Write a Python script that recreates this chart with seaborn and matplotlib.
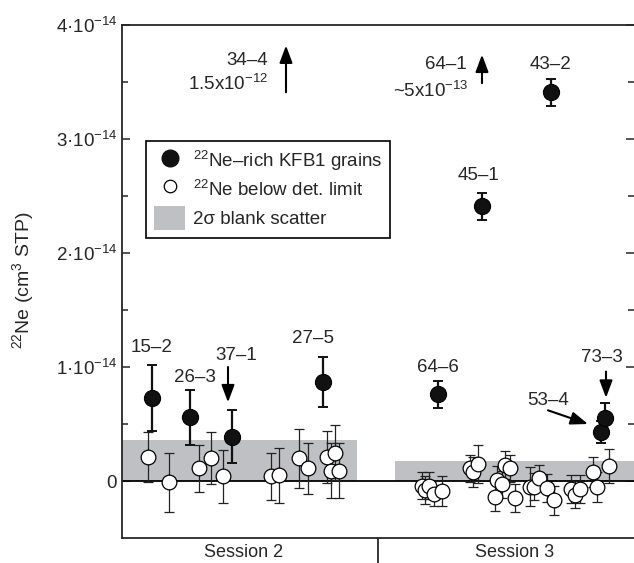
import matplotlib
matplotlib.use("Agg")
import matplotlib.pyplot as plt
import seaborn as sns
import pandas as pd
import numpy as np
from matplotlib.lines import Line2D
from matplotlib.patches import Patch

# positions along the x axis (arbitrary run order), Ne values in units of 1e-14 cm3 STP
rich_names = ['15–2', '26–3', '37–1', '27–5', '64–6', '45–1', '43–2', '53–4', '73–3']
rich_pos = [30, 68, 110, 201, 316, 360, 429, 479, 483]
rich_ne = [0.73, 0.56, 0.39, 0.87, 0.76, 2.41, 3.41, 0.43, 0.55]
rich_err = [0.29, 0.24, 0.23, 0.22, 0.12, 0.12, 0.12, 0.10, 0.13]

below_pos = [26, 47, 77, 89, 101, 149, 157, 177, 186, 205, 209, 213, 217,
             300, 303, 307, 312, 320, 348, 351, 356, 373, 375, 380, 383, 388,
             393, 408, 412, 417, 425, 432, 449, 453, 458, 471, 475, 487]
below_ne = [0.21, -0.01, 0.11, 0.20, 0.04, 0.04, 0.05, 0.20, 0.11, 0.21, 0.09, 0.25, 0.09,
            -0.04, -0.08, -0.04, -0.11, -0.09, 0.11, 0.08, 0.15, -0.14, 0.01, -0.03, 0.14, 0.11,
            -0.15, -0.05, -0.05, 0.03, -0.06, -0.17, -0.07, -0.12, -0.07, 0.08, -0.05, 0.13]
below_err = [0.22, 0.26, 0.21, 0.23, 0.23, 0.21, 0.24, 0.26, 0.22, 0.23, 0.24, 0.24, 0.24,
             0.12, 0.12, 0.12, 0.11, 0.13, 0.12, 0.13, 0.17, 0.12, 0.12, 0.12, 0.12, 0.12,
             0.12, 0.17, 0.12, 0.11, 0.12, 0.13, 0.12, 0.12, 0.12, 0.13, 0.13, 0.15]

# 2 sigma blank scatter per session: (x start, x end, height)
blank_s2 = (0, 235, 0.36)
blank_s3 = (273, 512, 0.175)

sessions = ['Session 2', 'Session 3']
session_centers = [122, 393]
session_split = 256

ytick_vals = [0, 1, 2, 3, 4]
ytick_labels = ['0', '1·10$^{-14}$', '2·10$^{-14}$', '3·10$^{-14}$', '4·10$^{-14}$']

sns.set_style("ticks")
plt.rcParams['font.family'] = ['Liberation Sans', 'DejaVu Sans']
plt.rcParams['mathtext.fontset'] = 'custom'
plt.rcParams['mathtext.rm'] = 'Liberation Sans'
plt.rcParams['mathtext.it'] = 'Liberation Sans:italic'
plt.rcParams['mathtext.bf'] = 'Liberation Sans:bold'

fig = plt.figure(figsize=(6.34, 5.63), dpi=100)
ax = fig.add_axes([122 / 634, 25 / 563, 512 / 634, 513 / 563])

gray = '#bfc0c4'
for x0, x1, h in (blank_s2, blank_s3):
    ax.fill_between([x0, x1], 0, h, color=gray, lw=0, zorder=1)
ax.axhline(0, color='black', lw=1.3, zorder=2)

# error bars
ax.errorbar(below_pos, below_ne, yerr=below_err, fmt='none', ecolor='#222222',
            elinewidth=0.9, capsize=3.5, capthick=0.9, zorder=3)
ax.errorbar(rich_pos, rich_ne, yerr=rich_err, fmt='none', ecolor='#111111',
            elinewidth=1.6, capsize=3.5, capthick=1.4, zorder=3)

df_below = pd.DataFrame({'pos': below_pos, 'ne': below_ne})
df_rich = pd.DataFrame({'pos': rich_pos, 'ne': rich_ne})
sns.scatterplot(data=df_below, x='pos', y='ne', ax=ax, s=112, color='white',
                edgecolor='black', linewidth=0.9, zorder=4, legend=False)
sns.scatterplot(data=df_rich, x='pos', y='ne', ax=ax, s=135, color='#111111',
                edgecolor='black', linewidth=0.8, zorder=5, legend=False)

# grain labels
label_xy = {
    '15–2': (30, 1.17), '26–3': (73, 0.91), '37–1': (114, 1.10), '27–5': (191, 1.25),
    '64–6': (316, 1.0), '45–1': (357, 2.68), '43–2': (429, 3.65), '53–4': (426, 0.71),
    '73–3': (480, 1.08),
}
for name, (lx, ly) in label_xy.items():
    ax.text(lx, ly, name, fontsize=13.5, ha='center', va='center', zorder=6)

arrow = dict(arrowstyle='-|>,head_length=0.8,head_width=0.3', color='black', lw=1.5,
             mutation_scale=13, shrinkA=0, shrinkB=0)
ax.annotate('', xy=(106, 0.69), xytext=(106, 1.0), arrowprops=arrow)
ax.annotate('', xy=(484, 0.73), xytext=(484, 0.96), arrowprops=arrow)
ax.annotate('', xy=(466, 0.50), xytext=(426, 0.62), arrowprops=arrow)
ax.annotate('', xy=(164, 3.82), xytext=(164, 3.41), arrowprops=arrow)
ax.annotate('', xy=(360, 3.74), xytext=(360, 3.49), arrowprops=arrow)

ax.text(146, 3.69, '34–4', fontsize=13.5, ha='right', va='center')
ax.text(146, 3.48, '1.5x10$^{-12}$', fontsize=13.5, ha='right', va='center')
ax.text(345, 3.65, '64–1', fontsize=13.5, ha='right', va='center')
ax.text(346, 3.42, '~5x10$^{-13}$', fontsize=13.5, ha='right', va='center')

ax.set_xlim(0, 512)
ax.set_ylim(-0.5, 4.0)
ax.set_yticks(ytick_vals, ytick_labels)
ax.set_yticks(np.arange(0.5, 4.0, 1.0), minor=True)
ax.tick_params(axis='y', which='both', direction='in', left=True, right=True,
               labelsize=13.5, width=1.1)
ax.tick_params(axis='y', which='major', length=6)
ax.tick_params(axis='y', which='minor', length=4)
ax.set_xticks(session_centers, sessions)
ax.tick_params(axis='x', length=0, labelsize=13, pad=4)
ax.set_xlabel('')
ax.set_ylabel('')
for side in ['left', 'top', 'bottom']:
    ax.spines[side].set_linewidth(1.3)
ax.spines['right'].set_visible(False)

ax.plot([session_split, session_split], [0, -0.05], color='black', lw=1.1,
        transform=ax.get_xaxis_transform(), clip_on=False)

fig.text(23 / 634, 1 - 280 / 563, '$^{22}$Ne (cm$^3$ STP)', rotation=90,
         ha='center', va='center', fontsize=14)

handles = [
    Line2D([], [], marker='o', ls='none', color='#111111', markersize=12),
    Line2D([], [], marker='o', ls='none', markerfacecolor='white', markeredgecolor='black',
           markeredgewidth=0.9, markersize=9),
    Patch(facecolor=gray, edgecolor='none'),
]
labels = ['$^{22}$Ne–rich KFB1 grains', '$^{22}$Ne below det. limit', '2σ blank scatter']
leg = ax.legend(handles, labels, loc='upper left', bbox_to_anchor=(0.047, 0.774),
                borderaxespad=0, fontsize=13.5, frameon=True, fancybox=False,
                handlelength=1.7, handleheight=1.6, labelspacing=0.25,
                handletextpad=0.4, borderpad=0.4)
leg.get_frame().set_edgecolor('black')
leg.get_frame().set_linewidth(1.2)
leg.get_frame().set_alpha(1)

fig.savefig('out.png', dpi=100)
